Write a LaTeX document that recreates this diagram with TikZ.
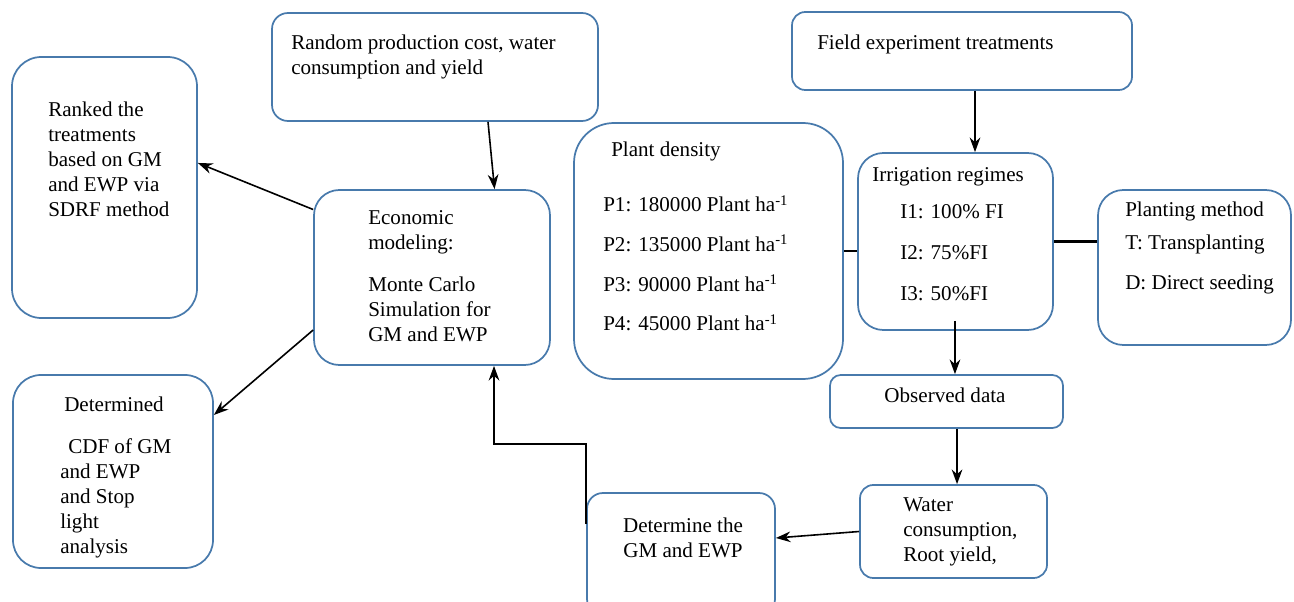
\documentclass[tikz,border=0pt]{standalone}
\usepackage{fontspec}
\setmainfont{Liberation Serif}
\usetikzlibrary{fit,arrows.meta}

\definecolor{boxblue}{RGB}{72,122,172}

\tikzset{
  box/.style={draw=boxblue, line width=1.3pt, rounded corners=#1, inner sep=0pt},
  box/.default=18pt,
  txt/.style={anchor=north west, align=left, inner sep=0pt, font=\fontsize{15.8}{18.75}\selectfont},
  arr/.style={-{Stealth[length=11pt,width=8pt]}, line width=1.2pt},
  link/.style={line width=2pt}
}

\begin{document}
\begin{tikzpicture}[x=0.75pt,y=0.75pt,yscale=-1,xscale=1]
\useasboundingbox (0,0) rectangle (1294,602);

%Boxes
\node (rank) [box=22pt, fit={(12,57) (197,318)}] {};
\node (rand) [box=12pt, fit={(272,13) (598,121)}] {};
\node (econ) [box=19pt, fit={(314,190) (550,365)}] {};
\node (field) [box=10pt, fit={(792,12) (1132,90)}] {};
\node (plant) [box=30pt, fit={(574,123) (843,379)}] {};
\node (irr) [box=19pt, fit={(858,153) (1053,330)}] {};
\node (plm) [box=19pt, fit={(1098,190) (1291,345)}] {};
\node (obs) [box=8pt, fit={(830,375) (1063,428)}] {};
\node (wat) [box=10pt, fit={(860,485) (1047,578)}] {};
\node (dtm) [box=12pt, fit={(587,493) (775,615)}] {};
\node (det) [box=21pt, fit={(13,375) (213,568)}] {};

% Text Nodes
\node (rankt) [txt] at (48,102) {Ranked the\\ treatments\\ based on GM\\ and EWP via\\ SDRF method};
\node (randt) [txt] at (291,35) {Random production cost, water\\ consumption and yield};
\node (econt) [txt] at (368,210) {Economic\\ modeling:\\[12.75pt] Monte Carlo\\ Simulation for\\ GM and EWP};
\node (fieldt) [txt] at (817,35) {Field experiment treatments};
\node (plantt) [txt] at (611,142) {Plant density};
\node (plantp) [txt] at (603,195) {P1: 180000 Plant ha\textsuperscript{-1}\\[11pt] P2: 135000 Plant ha\textsuperscript{-1}\\[11pt] P3: 90000 Plant ha\textsuperscript{-1}\\[11pt] P4: 45000 Plant ha\textsuperscript{-1}};
\node (irrt) [txt] at (872,167) {Irrigation regimes};
\node (irri) [txt] at (900,204) {I1: 100\% FI\\[12pt] I2: 75\%FI\\[12pt] I3: 50\%FI};
\node (plmt) [txt] at (1125,202) {Planting method\\[6pt] T: Transplanting\\[11.25pt] D: Direct seeding};
\node (obst) [txt, anchor=center] at (945,395) {Observed data};
\node (watt) [txt] at (903,497) {Water\\ consumption,\\ Root yield,};
\node (dtmt) [txt, anchor=center, align=center] at (683,538) {Determine the\\ GM and EWP};
\node (dett) [txt] at (60,397) {\hspace*{3pt}Determined\\[12.75pt] \hspace*{6pt}CDF of GM\\ and EWP\\ and Stop\\ light\\ analysis};

% Connectors
\draw [arr] ([xshift=39.75pt]rand.south) -- ([xshift=46.9pt]econ.north);
\draw [arr] ([yshift=-51pt]econ.west) -- ([yshift=-18.4pt]rank.east);
\draw [arr] ([yshift=39.4pt]econ.west) -- ([yshift=-42.4pt]det.east);
\draw [arr] ([xshift=9.75pt]field.south) -- ([xshift=9.75pt]field.south |- irr.north);
\draw [link] (plant.east) -- (plant.east -| irr.west);
\draw [link] (irr.east) -- (irr.east -| plm.west);
\draw [arr] ([xshift=-0.4pt,yshift=-7.5pt]irr.south) -- ([xshift=-0.4pt]irr.south |- obs.north);
\draw [arr] ([xshift=7.9pt]obs.south) -- ([xshift=7.9pt]obs.south |- wat.north);
\draw [arr] (wat.west) -- ([yshift=-12pt]dtm.east);
\draw [arr] ([yshift=24pt]dtm.north west) -- ++(0,-80) -| ([xshift=46.5pt]econ.south);

\end{tikzpicture}
\end{document}
